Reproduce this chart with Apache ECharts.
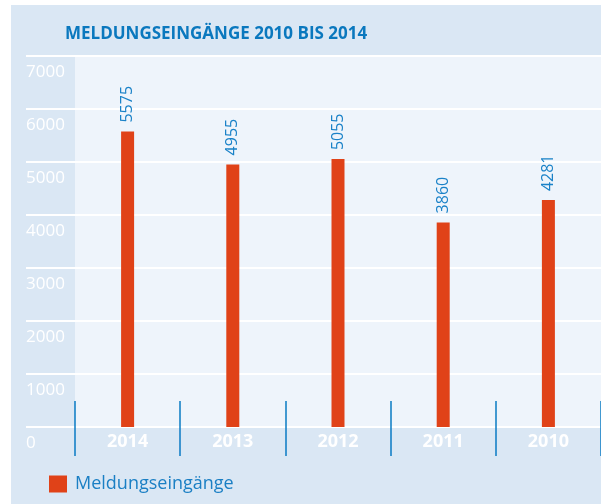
<!DOCTYPE html>
<html>
<head>
<meta charset="utf-8">
<script src="https://cdn.jsdelivr.net/npm/echarts@6/dist/echarts.min.js"></script>
<style>
  html, body { margin: 0; padding: 0; background: #fff; }
  #chart { width: 601px; height: 504px; }
</style>
</head>
<body>
<div id="chart"></div>
<script>
// Daten
const years = ['2014', '2013', '2012', '2011', '2010'];
const meldungen = [5575, 4955, 5055, 3860, 4281];
const yTicks = [0, 1000, 2000, 3000, 4000, 5000, 6000, 7000];

const blue = '#0a78be';
const font = 'Open Sans';

const myChart = echarts.init(document.getElementById('chart'));

const option = {
  backgroundColor: '#dae7f4',
  textStyle: { fontFamily: font },
  title: {
    text: 'MELDUNGSEINGÄNGE 2010 BIS 2014',
    left: 60,
    top: 21,
    textStyle: { color: blue, fontSize: 17, fontWeight: 'bold', fontFamily: font }
  },
  graphic: [
    // weisser Rand oben und links
    { type: 'rect', left: 0, top: 0, shape: { width: 601, height: 5 }, style: { fill: '#fff' }, z: 100 },
    { type: 'rect', left: 0, top: 0, shape: { width: 11, height: 504 }, style: { fill: '#fff' }, z: 100 }
  ],
  legend: {
    data: ['Meldungseingänge'],
    left: 44,
    top: 470,
    itemWidth: 18,
    itemHeight: 17,
    icon: 'rect',
    textStyle: { color: '#1a7fc4', fontSize: 18, fontFamily: font, padding: [0, 0, 0, 3] }
  },
  grid: [
    { left: 75, right: -2, top: 56, bottom: 77, show: true, backgroundColor: '#eef4fb', borderWidth: 0 },
    { left: 26, width: 49, top: 56, bottom: 77, show: false }
  ],
  xAxis: [
    {
      type: 'category',
      gridIndex: 0,
      data: years,
      offset: -26,
      axisLine: { show: false },
      axisTick: { show: true, length: 55, lineStyle: { color: '#0a7bc4', width: 1.5 } },
      axisLabel: { color: '#fff', fontSize: 18, fontWeight: 'bold', margin: 32 }
    },
    { type: 'value', gridIndex: 1, show: false }
  ],
  yAxis: [
    {
      type: 'value',
      gridIndex: 0,
      min: yTicks[0],
      max: yTicks[yTicks.length - 1],
      interval: 1000,
      axisLine: { show: false },
      axisTick: { show: false },
      axisLabel: { show: false },
      splitLine: { lineStyle: { color: '#fff', width: 2 } }
    },
    {
      type: 'value',
      gridIndex: 1,
      min: yTicks[0],
      max: yTicks[yTicks.length - 1],
      interval: 1000,
      axisLine: { show: false },
      axisTick: { show: false },
      axisLabel: {
        inside: true,
        margin: 0,
        color: '#fff',
        fontSize: 17,
        verticalAlign: 'top',
        padding: [8, 0, 0, 0],
        formatter: (v) => String(v)
      },
      splitLine: { lineStyle: { color: '#fff', width: 2 } }
    }
  ],
  series: [
    {
      name: 'Meldungseingänge',
      type: 'bar',
      xAxisIndex: 0,
      yAxisIndex: 0,
      data: meldungen,
      barWidth: 13,
      itemStyle: { color: '#e04218' },
      label: {
        show: true,
        position: 'top',
        rotate: 90,
        align: 'left',
        verticalAlign: 'middle',
        distance: 9,
        color: '#1a82c8',
        fontSize: 16
      }
    }
  ]
};

myChart.setOption(option);
</script>
</body>
</html>
